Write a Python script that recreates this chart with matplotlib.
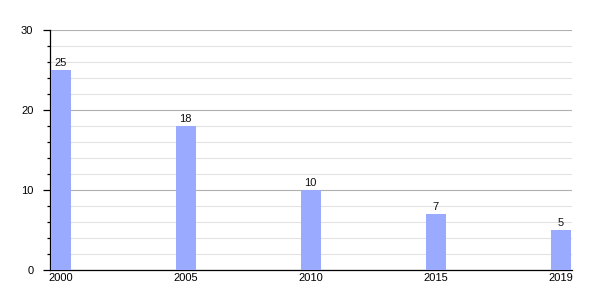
import matplotlib
matplotlib.use('Agg')
import matplotlib.pyplot as plt
from matplotlib.ticker import MultipleLocator

plt.rcParams['font.family'] = ['Liberation Sans', 'DejaVu Sans']

years = ['2000', '2005', '2010', '2015', '2019']
values = [25, 18, 10, 7, 5]

fig = plt.figure(figsize=(6, 3), dpi=100)
ax = fig.add_axes([50 / 600, 30 / 300, 522 / 600, 240 / 300])

pos = list(range(len(years)))
ax.bar(pos, values, width=0.16, color='#99aaff', zorder=3)
for x, v in zip(pos, values):
    ax.text(x, v + 0.3, str(v), ha='center', va='bottom', fontsize=8, color='#111111', zorder=4)

ax.set_xlim(-0.086, 4.09)
ax.set_ylim(0, 30)
ax.set_xticks(pos)
ax.set_xticklabels(years)
ax.yaxis.set_major_locator(MultipleLocator(10))
ax.yaxis.set_minor_locator(MultipleLocator(2))

ax.grid(axis='y', which='major', color='#b0b0b0', linewidth=0.8, zorder=0)
ax.grid(axis='y', which='minor', color='#e2e2e2', linewidth=0.8, zorder=0)

for s in ['top', 'right']:
    ax.spines[s].set_visible(False)
ax.spines['left'].set_linewidth(0.9)
ax.spines['bottom'].set_linewidth(0.9)

ax.tick_params(axis='x', length=0, pad=2, labelsize=8)
ax.tick_params(axis='y', which='major', length=5, width=0.9, pad=7, labelsize=8)
ax.tick_params(axis='y', which='minor', length=2.5, width=0.9)

fig.savefig('out.png', dpi=100)
